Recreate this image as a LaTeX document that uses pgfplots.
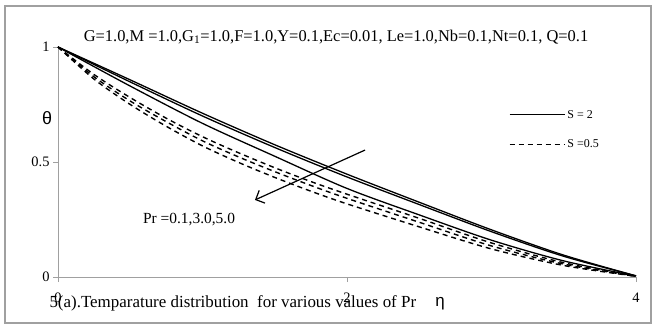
\documentclass[border=0pt]{standalone}
\usepackage{pgfplots}
\pgfplotsset{compat=1.18}
\usepackage{fontspec}
\setmainfont{Liberation Serif}
\newfontfamily\sansgreek{Liberation Sans}
\usetikzlibrary{arrows.meta}
\definecolor{axgrey}{RGB}{160,160,160}
\begin{document}
\begin{tikzpicture}[x=1bp,y=1bp]
\useasboundingbox (0,0) rectangle (656,329);
\draw[axgrey,line width=1.2bp] (5,6) rectangle (651,323);
\begin{axis}[
  at={(58bp,52bp)}, anchor=south west,
  scale only axis, width=578bp, height=230bp,
  xmin=0, xmax=4, ymin=0, ymax=1,
  axis x line=bottom, axis y line=left,
  axis line style={axgrey, line width=0.8bp, -},
  xtick={0,2,4}, ytick={0,0.5,1},
  xticklabels={0,2,4}, yticklabels={0,0.5,1},
  tick align=outside, major tick length=5bp,
  tick style={axgrey, line width=0.8bp},
  ticklabel style={font=\fontsize{14.5}{16}\selectfont},
  xticklabel style={yshift=-7bp},
  /pgf/number format/assume math mode=true,
  clip=false,
  legend style={draw=none, fill=none, at={(0.78,0.735)}, anchor=north west,
    font=\fontsize{12}{14}\selectfont, row sep=16bp, inner sep=0pt},
  legend cell align=left,
  legend image code/.code={\draw[#1] (0bp,0bp) -- (55bp,0bp);},
]
\addplot[black, line width=1.3bp, smooth] coordinates {(0,1) (0.5,0.857) (1,0.712) (1.5,0.575) (2,0.447) (2.5,0.325) (3,0.205) (3.5,0.095) (4,0.005)};
\addlegendentry{S = 2}
\addplot[black, line width=1.4bp, dash pattern=on 5bp off 4bp, smooth] coordinates {(0,1) (0.25,0.88) (0.5,0.78) (0.75,0.69) (1,0.61) (1.25,0.54) (1.5,0.475) (1.75,0.415) (2,0.36) (2.5,0.255) (3,0.148) (3.5,0.062) (4,0.003)};
\addlegendentry{S =0.5}
\addplot[black, line width=1.3bp, smooth, forget plot] coordinates {(0,1) (0.5,0.848) (1,0.7) (1.5,0.563) (2,0.435) (2.5,0.315) (3,0.197) (3.5,0.09) (4,0.005)};
\addplot[black, line width=1.3bp, smooth, forget plot] coordinates {(0,1) (0.5,0.83) (1,0.668) (1.5,0.525) (2,0.385) (2.5,0.27) (3,0.16) (3.5,0.07) (4,0.004)};
\addplot[black, line width=1.4bp, dash pattern=on 5bp off 4bp, smooth, forget plot] coordinates {(0,1) (0.25,0.87) (0.5,0.765) (0.75,0.675) (1,0.592) (1.25,0.522) (1.5,0.458) (1.75,0.398) (2,0.342) (2.5,0.238) (3,0.135) (3.5,0.056) (4,0.003)};
\addplot[black, line width=1.4bp, dash pattern=on 5bp off 4bp, smooth, forget plot] coordinates {(0,1) (0.25,0.86) (0.5,0.75) (0.75,0.655) (1,0.57) (1.25,0.498) (1.5,0.433) (1.75,0.373) (2,0.318) (2.5,0.218) (3,0.122) (3.5,0.05) (4,0.003)};
\draw[black, line width=1.2bp, -{Straight Barb[length=7bp,width=14bp]}] (axis cs:2.125,0.552) -- (axis cs:1.363,0.335);
\node[font=\fontsize{15.5}{17}\selectfont] at (axis cs:0.907,0.248) {Pr =0.1,3.0,5.0};
\end{axis}
\node[font=\fontsize{16.5}{18}\selectfont] at (336,292) {G=1.0,M =1.0,G\textsubscript{1}=1.0,F=1.0,Y=0.1,Ec=0.01, Le=1.0,Nb=0.1,Nt=0.1, Q=0.1};
\node[font=\fontsize{18}{20}\sansgreek] at (47,211) {θ};
\node[font=\fontsize{17}{20}\sansgreek] at (440,25) {η};
\node[anchor=west, font=\fontsize{17}{18}\selectfont] at (46,26) {5(a).Temparature distribution\ \ for various values of Pr};
\end{tikzpicture}
\end{document}
